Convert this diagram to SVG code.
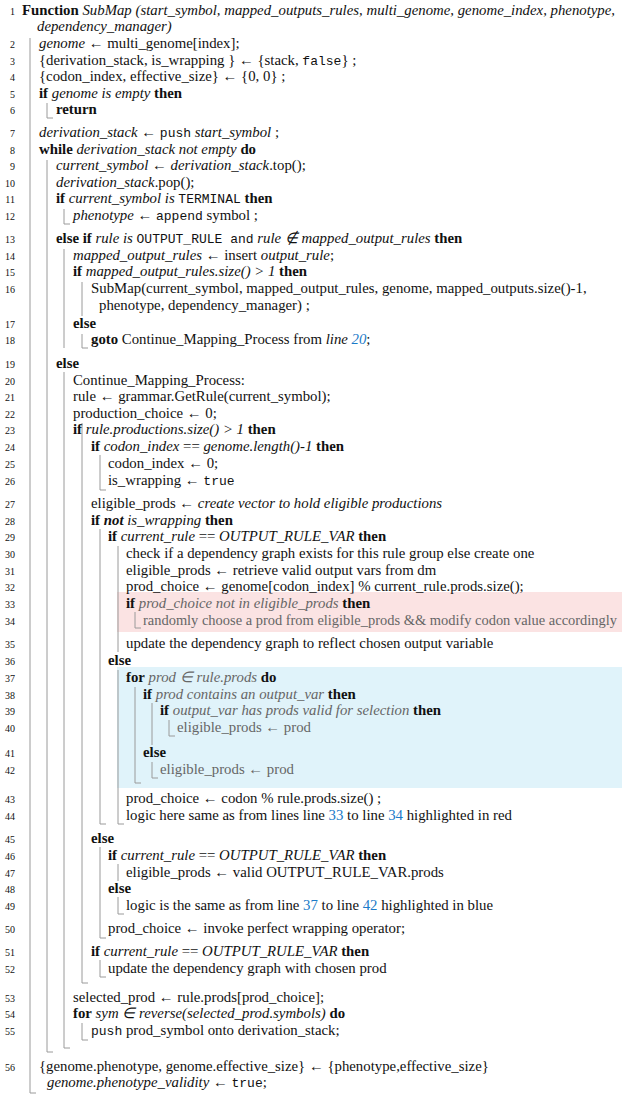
<svg xmlns="http://www.w3.org/2000/svg" width="626" height="1095" viewBox="0 0 626 1095">
<style>
text{font-family:"Liberation Serif",serif;font-size:14.8px;fill:#111}
.n{font-size:10px;text-anchor:end}
.b{font-weight:bold}.i{font-style:italic}.m{font-family:"Liberation Mono",monospace;font-size:13px}
.g{fill:#666}.l{fill:#1a7ac8}
.bar{stroke:#9a9a9a;stroke-width:1;fill:none}
</style>
<rect x="117" y="592" width="505" height="40" fill="#fbe3e3"/>
<rect x="117" y="667" width="505" height="121" fill="#e0f3fa"/>
<g id="connectors">
<path class="bar" d="M30 38V1093h6"/>
<path class="bar" d="M47 103V118h6"/>
<path class="bar" d="M47 160V1052h6"/>
<path class="bar" d="M64 209V224h6"/>
<path class="bar" d="M64 249V348"/>
<path class="bar" d="M82 282V316"/>
<path class="bar" d="M82 334V348h6"/>
<path class="bar" d="M64 372V1048h6"/>
<path class="bar" d="M82 423V983h6"/>
<path class="bar" d="M100 455V490h6"/>
<path class="bar" d="M100 529V824h6"/>
<path class="bar" d="M118 546V652"/>
<path class="bar" d="M135 612V628h6"/>
<path class="bar" d="M118 670V824h6"/>
<path class="bar" d="M135 687V783h6"/>
<path class="bar" d="M152 703V745"/>
<path class="bar" d="M169 720V736h6"/>
<path class="bar" d="M152 762V778h6"/>
<path class="bar" d="M100 847V938h6"/>
<path class="bar" d="M118 864V881"/>
<path class="bar" d="M118 897V914h6"/>
<path class="bar" d="M100 960V977h6"/>
<path class="bar" d="M82 1023V1040h6"/>
</g>
<g id="numbers">
<text class="n" x="15" y="15">1</text><text class="n" x="15" y="48">2</text><text class="n" x="15" y="65">3</text><text class="n" x="15" y="81">4</text><text class="n" x="15" y="98">5</text><text class="n" x="15" y="114">6</text><text class="n" x="15" y="137">7</text><text class="n" x="15" y="154">8</text><text class="n" x="15" y="170">9</text><text class="n" x="15" y="187">10</text><text class="n" x="15" y="203">11</text><text class="n" x="15" y="220">12</text><text class="n" x="15" y="243">13</text><text class="n" x="15" y="260">14</text><text class="n" x="15" y="276">15</text><text class="n" x="15" y="293">16</text><text class="n" x="15" y="328">17</text><text class="n" x="15" y="344">18</text><text class="n" x="15" y="368">19</text><text class="n" x="15" y="385">20</text><text class="n" x="15" y="401">21</text><text class="n" x="15" y="418">22</text><text class="n" x="15" y="434">23</text><text class="n" x="15" y="451">24</text><text class="n" x="15" y="468">25</text><text class="n" x="15" y="485">26</text><text class="n" x="15" y="508">27</text><text class="n" x="15" y="525">28</text><text class="n" x="15" y="541">29</text><text class="n" x="15" y="558">30</text><text class="n" x="15" y="575">31</text><text class="n" x="15" y="591">32</text><text class="n" x="15" y="608">33</text><text class="n" x="15" y="625">34</text><text class="n" x="15" y="648">35</text><text class="n" x="15" y="665">36</text><text class="n" x="15" y="682">37</text><text class="n" x="15" y="699">38</text><text class="n" x="15" y="715">39</text><text class="n" x="15" y="732">40</text><text class="n" x="15" y="757">41</text><text class="n" x="15" y="774">42</text><text class="n" x="15" y="803">43</text><text class="n" x="15" y="820">44</text><text class="n" x="15" y="843">45</text><text class="n" x="15" y="860">46</text><text class="n" x="15" y="877">47</text><text class="n" x="15" y="893">48</text><text class="n" x="15" y="910">49</text><text class="n" x="15" y="933">50</text><text class="n" x="15" y="956">51</text><text class="n" x="15" y="973">52</text><text class="n" x="15" y="1002">53</text><text class="n" x="15" y="1018">54</text><text class="n" x="15" y="1035">55</text><text class="n" x="15" y="1071">56</text>
</g>
<g id="code">
<text x="22" y="15"><tspan class="b">Function</tspan> <tspan class="i">SubMap (start_symbol, mapped_outputs_rules, multi_genome, genome_index, phenotype,</tspan></text>
<text x="37" y="31" class="i">dependency_manager)</text>
<text x="39" y="48"><tspan class="i">genome</tspan> ← multi_genome[index];</text>
<text x="39" y="65">{derivation_stack, is_wrapping } ← {stack, <tspan class="m">false</tspan>} ;</text>
<text x="39" y="81">{codon_index, effective_size} ← {0, 0} ;</text>
<text x="39" y="98"><tspan class="b">if</tspan> <tspan class="i">genome is empty</tspan> <tspan class="b">then</tspan></text>
<text x="56" y="114" class="b">return</text>
<text x="39" y="137"><tspan class="i">derivation_stack</tspan> ← <tspan class="m">push</tspan> <tspan class="i">start_symbol</tspan> ;</text>
<text x="39" y="154"><tspan class="b">while</tspan> <tspan class="i">derivation_stack not empty</tspan> <tspan class="b">do</tspan></text>
<text x="56" y="170"><tspan class="i">current_symbol</tspan> ← <tspan class="i">derivation_stack</tspan>.top();</text>
<text x="56" y="187"><tspan class="i">derivation_stack</tspan>.pop();</text>
<text x="56" y="203"><tspan class="b">if</tspan> <tspan class="i">current_symbol is</tspan> <tspan class="m">TERMINAL</tspan> <tspan class="b">then</tspan></text>
<text x="73" y="220"><tspan class="i">phenotype</tspan> ← <tspan class="m">append</tspan> symbol ;</text>
<text x="56" y="243"><tspan class="b">else if</tspan> <tspan class="i">rule is</tspan> <tspan class="m">OUTPUT_RULE and</tspan> <tspan class="i">rule ∉ mapped_output_rules</tspan> <tspan class="b">then</tspan></text>
<text x="73" y="260"><tspan class="i">mapped_output_rules</tspan> ←  insert <tspan class="i">output_rule</tspan>;</text>
<text x="73" y="276"><tspan class="b">if</tspan> <tspan class="i">mapped_output_rules.size() &gt; 1</tspan> <tspan class="b">then</tspan></text>
<text x="91" y="293">SubMap(current_symbol, mapped_output_rules, genome, mapped_outputs.size()-1,</text>
<text x="99" y="310">phenotype, dependency_manager) ;</text>
<text x="73" y="328" class="b">else</text>
<text x="91" y="344"><tspan class="b">goto</tspan> Continue_Mapping_Process from <tspan class="i">line </tspan><tspan class="i l">20</tspan>;</text>
<text x="56" y="368" class="b">else</text>
<text x="73" y="385">Continue_Mapping_Process:</text>
<text x="73" y="401">rule ← grammar.GetRule(current_symbol);</text>
<text x="73" y="418">production_choice ← 0;</text>
<text x="73" y="434"><tspan class="b">if</tspan> <tspan class="i">rule.productions.size() &gt; 1</tspan> <tspan class="b">then</tspan></text>
<text x="91" y="451"><tspan class="b">if</tspan> <tspan class="i">codon_index</tspan> == <tspan class="i">genome.length()-1</tspan> <tspan class="b">then</tspan></text>
<text x="108" y="468">codon_index ← 0;</text>
<text x="108" y="485">is_wrapping ← <tspan class="m">true</tspan></text>
<text x="91" y="508">eligible_prods ← <tspan class="i">create vector to hold eligible productions</tspan></text>
<text x="91" y="525"><tspan class="b">if</tspan> <tspan class="b i">not</tspan> <tspan class="i">is_wrapping</tspan> <tspan class="b">then</tspan></text>
<text x="108" y="541"><tspan class="b">if</tspan> <tspan class="i">current_rule</tspan> == <tspan class="i">OUTPUT_RULE_VAR</tspan> <tspan class="b">then</tspan></text>
<text x="126" y="558">check if a dependency graph exists for this rule group else create one</text>
<text x="126" y="575">eligible_prods ← retrieve valid output vars from dm</text>
<text x="126" y="591">prod_choice ← genome[codon_index] % current_rule.prods.size();</text>
<text x="126" y="608"><tspan class="b">if</tspan> <tspan class="i g">prod_choice not in eligible_prods</tspan> <tspan class="b">then</tspan></text>
<text x="143" y="625" class="g" textLength="474" lengthAdjust="spacingAndGlyphs">randomly choose a prod from eligible_prods &amp;&amp; modify codon value accordingly</text>
<text x="126" y="648">update the dependency graph to reflect chosen output variable</text>
<text x="108" y="665" class="b">else</text>
<text x="126" y="682"><tspan class="b">for</tspan> <tspan class="i g">prod ∈ rule.prods</tspan> <tspan class="b">do</tspan></text>
<text x="143" y="699"><tspan class="b">if</tspan> <tspan class="i g">prod contains an output_var</tspan> <tspan class="b">then</tspan></text>
<text x="160" y="715"><tspan class="b">if</tspan> <tspan class="i g">output_var has prods valid for selection</tspan> <tspan class="b">then</tspan></text>
<text x="177" y="732" class="g">eligible_prods ← prod</text>
<text x="143" y="757" class="b">else</text>
<text x="160" y="774" class="g">eligible_prods ← prod</text>
<text x="126" y="803">prod_choice ← codon % rule.prods.size() ;</text>
<text x="126" y="820">logic here same as from lines line <tspan class="l">33</tspan> to line <tspan class="l">34</tspan> highlighted in red</text>
<text x="91" y="843" class="b">else</text>
<text x="108" y="860"><tspan class="b">if</tspan> <tspan class="i">current_rule</tspan> == <tspan class="i">OUTPUT_RULE_VAR</tspan> <tspan class="b">then</tspan></text>
<text x="126" y="877">eligible_prods ← valid OUTPUT_RULE_VAR.prods</text>
<text x="108" y="893" class="b">else</text>
<text x="126" y="910">logic is the same as from line <tspan class="l">37</tspan> to line <tspan class="l">42</tspan> highlighted in blue</text>
<text x="108" y="933">prod_choice ← invoke perfect wrapping operator;</text>
<text x="91" y="956"><tspan class="b">if</tspan> <tspan class="i">current_rule</tspan> == <tspan class="i">OUTPUT_RULE_VAR</tspan> <tspan class="b">then</tspan></text>
<text x="108" y="973">update the dependency graph with chosen prod</text>
<text x="73" y="1002">selected_prod ← rule.prods[prod_choice];</text>
<text x="73" y="1018"><tspan class="b">for</tspan> <tspan class="i">sym ∈ reverse(selected_prod.symbols)</tspan> <tspan class="b">do</tspan></text>
<text x="91" y="1035"><tspan class="m">push</tspan> prod_symbol onto derivation_stack;</text>
<text x="39" y="1071">{genome.phenotype, genome.effective_size} ← {phenotype,effective_size}</text>
<text x="47" y="1087"><tspan class="i">genome.phenotype_validity</tspan> ← <tspan class="m">true</tspan>;</text>
</g>
</svg>
